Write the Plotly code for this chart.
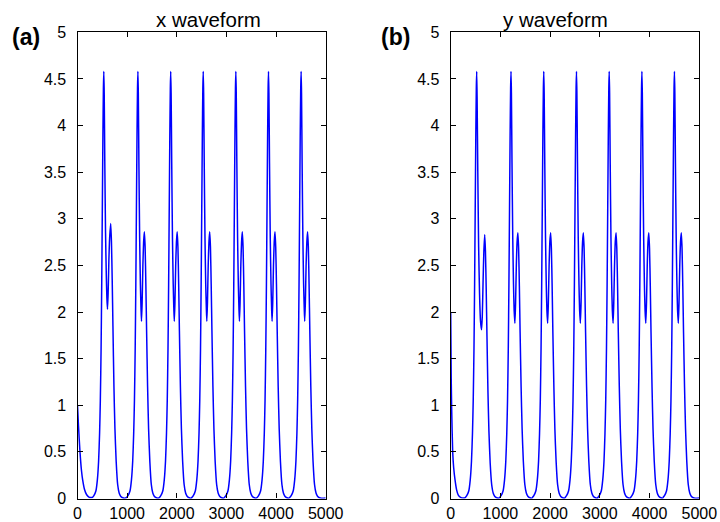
import plotly.graph_objects as go

# ---- data ----
# x waveform (panel a): time samples and values
x_time = [
    0, 20, 50, 80, 104, 140, 185, 230, 275,
    300, 330, 370, 400, 425, 445, 460, 475, 488, 500, 512, 522, 530, 538, 550, 565, 580, 592, 604, 617, 632, 648, 669, 684, 699, 714, 734, 754, 779, 809, 839, 869, 909, 949,
    987, 1017, 1057, 1087, 1112, 1132, 1147, 1162, 1175, 1187, 1199, 1209, 1217, 1225, 1237, 1252, 1267, 1279, 1289, 1302, 1317, 1332, 1347, 1362, 1377, 1392, 1412, 1432, 1457, 1487, 1517, 1547, 1587, 1627,
    1648, 1678, 1718, 1748, 1773, 1793, 1808, 1823, 1836, 1848, 1860, 1870, 1878, 1886, 1898, 1913, 1928, 1940, 1950, 1963, 1978, 1993, 2008, 2023, 2038, 2053, 2073, 2093, 2118, 2148, 2178, 2208, 2248, 2288,
    2303, 2333, 2373, 2403, 2428, 2448, 2463, 2478, 2491, 2503, 2515, 2525, 2533, 2541, 2553, 2568, 2583, 2595, 2605, 2618, 2633, 2648, 2663, 2678, 2693, 2708, 2728, 2748, 2773, 2803, 2833, 2863, 2903, 2943,
    2960, 2990, 3030, 3060, 3085, 3105, 3120, 3135, 3148, 3160, 3172, 3182, 3190, 3198, 3210, 3225, 3240, 3252, 3262, 3275, 3290, 3305, 3320, 3335, 3350, 3365, 3385, 3405, 3430, 3460, 3490, 3520, 3560, 3600,
    3618, 3648, 3688, 3718, 3743, 3763, 3778, 3793, 3806, 3818, 3830, 3840, 3848, 3856, 3868, 3883, 3898, 3910, 3920, 3933, 3948, 3963, 3978, 3993, 4008, 4023, 4043, 4063, 4088, 4118, 4148, 4178, 4218, 4258,
    4275, 4305, 4345, 4375, 4400, 4420, 4435, 4450, 4463, 4475, 4487, 4497, 4505, 4513, 4525, 4540, 4555, 4567, 4577, 4590, 4605, 4620, 4635, 4650, 4665, 4680, 4700, 4720, 4745, 4775, 4805, 4835, 4875, 4915, 5000,
]
x_value = [
    1.0, 0.78, 0.5, 0.3, 0.2, 0.1, 0.04, 0.015, 0.01,
    0.012, 0.03, 0.08, 0.2, 0.4, 0.7, 1.05, 1.6, 2.3, 3.1, 3.9, 4.4, 4.58, 4.35, 3.6, 2.85, 2.4, 2.15, 2.03, 2.2, 2.55, 2.8, 2.95, 2.75, 2.35, 1.85, 1.2, 0.75, 0.4, 0.15, 0.06, 0.025, 0.008, 0.003,
    0.01, 0.03, 0.08, 0.2, 0.4, 0.7, 1.05, 1.6, 2.3, 3.1, 3.9, 4.4, 4.58, 4.35, 3.6, 2.8, 2.3, 2.05, 1.9, 2.1, 2.5, 2.75, 2.86, 2.7, 2.3, 1.8, 1.2, 0.75, 0.4, 0.15, 0.06, 0.025, 0.008, 0.003,
    0.01, 0.03, 0.08, 0.2, 0.4, 0.7, 1.05, 1.6, 2.3, 3.1, 3.9, 4.4, 4.58, 4.35, 3.6, 2.8, 2.3, 2.05, 1.9, 2.1, 2.5, 2.75, 2.86, 2.7, 2.3, 1.8, 1.2, 0.75, 0.4, 0.15, 0.06, 0.025, 0.008, 0.003,
    0.01, 0.03, 0.08, 0.2, 0.4, 0.7, 1.05, 1.6, 2.3, 3.1, 3.9, 4.4, 4.58, 4.35, 3.6, 2.8, 2.3, 2.05, 1.9, 2.1, 2.5, 2.75, 2.86, 2.7, 2.3, 1.8, 1.2, 0.75, 0.4, 0.15, 0.06, 0.025, 0.008, 0.003,
    0.01, 0.03, 0.08, 0.2, 0.4, 0.7, 1.05, 1.6, 2.3, 3.1, 3.9, 4.4, 4.58, 4.35, 3.6, 2.8, 2.3, 2.05, 1.9, 2.1, 2.5, 2.75, 2.86, 2.7, 2.3, 1.8, 1.2, 0.75, 0.4, 0.15, 0.06, 0.025, 0.008, 0.003,
    0.01, 0.03, 0.08, 0.2, 0.4, 0.7, 1.05, 1.6, 2.3, 3.1, 3.9, 4.4, 4.58, 4.35, 3.6, 2.8, 2.3, 2.05, 1.9, 2.1, 2.5, 2.75, 2.86, 2.7, 2.3, 1.8, 1.2, 0.75, 0.4, 0.15, 0.06, 0.025, 0.008, 0.003,
    0.01, 0.03, 0.08, 0.2, 0.4, 0.7, 1.05, 1.6, 2.3, 3.1, 3.9, 4.4, 4.58, 4.35, 3.6, 2.8, 2.3, 2.05, 1.9, 2.1, 2.5, 2.75, 2.86, 2.7, 2.3, 1.8, 1.2, 0.75, 0.4, 0.15, 0.06, 0.025, 0.008, 0.003, 0.005,
]

# y waveform (panel b)
y_time = [
    0, 10, 20, 40, 60, 87, 120, 150, 200, 250,
    293, 323, 363, 393, 418, 438, 453, 468, 481, 493, 505, 515, 523, 531, 545, 562, 580, 600, 620, 635, 650, 667, 684, 699, 714, 729, 749, 769, 794, 824, 854, 884, 924, 964,
    983, 1013, 1053, 1083, 1108, 1128, 1143, 1158, 1171, 1183, 1195, 1205, 1213, 1221, 1233, 1248, 1263, 1276, 1291, 1305, 1320, 1335, 1351, 1366, 1381, 1396, 1416, 1436, 1461, 1491, 1521, 1551, 1591, 1631,
    1642, 1672, 1712, 1742, 1767, 1787, 1802, 1817, 1830, 1842, 1854, 1864, 1872, 1880, 1892, 1907, 1922, 1935, 1950, 1964, 1979, 1994, 2010, 2025, 2040, 2055, 2075, 2095, 2120, 2150, 2180, 2210, 2250, 2290,
    2300, 2330, 2370, 2400, 2425, 2445, 2460, 2475, 2488, 2500, 2512, 2522, 2530, 2538, 2550, 2565, 2580, 2593, 2608, 2622, 2637, 2652, 2668, 2683, 2698, 2713, 2733, 2753, 2778, 2808, 2838, 2868, 2908, 2948,
    2958, 2988, 3028, 3058, 3083, 3103, 3118, 3133, 3146, 3158, 3170, 3180, 3188, 3196, 3208, 3223, 3238, 3251, 3266, 3280, 3295, 3310, 3326, 3341, 3356, 3371, 3391, 3411, 3436, 3466, 3496, 3526, 3566, 3606,
    3616, 3646, 3686, 3716, 3741, 3761, 3776, 3791, 3804, 3816, 3828, 3838, 3846, 3854, 3866, 3881, 3896, 3909, 3924, 3938, 3953, 3968, 3984, 3999, 4014, 4029, 4049, 4069, 4094, 4124, 4154, 4184, 4224, 4264,
    4270, 4300, 4340, 4370, 4395, 4415, 4430, 4445, 4458, 4470, 4482, 4492, 4500, 4508, 4520, 4535, 4550, 4563, 4578, 4592, 4607, 4622, 4638, 4653, 4668, 4683, 4703, 4723, 4748, 4778, 4808, 4838, 4878, 4918, 5000,
]
y_value = [
    2.0, 1.3, 0.95, 0.5, 0.33, 0.2, 0.09, 0.04, 0.012, 0.005,
    0.01, 0.03, 0.08, 0.2, 0.4, 0.7, 1.05, 1.6, 2.3, 3.1, 3.9, 4.4, 4.58, 4.3, 3.5, 2.7, 2.2, 1.9, 1.81, 1.95, 2.3, 2.65, 2.83, 2.65, 2.25, 1.75, 1.15, 0.72, 0.38, 0.15, 0.06, 0.025, 0.008, 0.003,
    0.01, 0.03, 0.08, 0.2, 0.4, 0.7, 1.05, 1.6, 2.3, 3.1, 3.9, 4.4, 4.58, 4.35, 3.6, 2.8, 2.3, 2.02, 1.88, 2.1, 2.5, 2.75, 2.85, 2.68, 2.28, 1.78, 1.2, 0.75, 0.4, 0.15, 0.06, 0.025, 0.008, 0.003,
    0.01, 0.03, 0.08, 0.2, 0.4, 0.7, 1.05, 1.6, 2.3, 3.1, 3.9, 4.4, 4.58, 4.35, 3.6, 2.8, 2.3, 2.02, 1.88, 2.1, 2.5, 2.75, 2.85, 2.68, 2.28, 1.78, 1.2, 0.75, 0.4, 0.15, 0.06, 0.025, 0.008, 0.003,
    0.01, 0.03, 0.08, 0.2, 0.4, 0.7, 1.05, 1.6, 2.3, 3.1, 3.9, 4.4, 4.58, 4.35, 3.6, 2.8, 2.3, 2.02, 1.88, 2.1, 2.5, 2.75, 2.85, 2.68, 2.28, 1.78, 1.2, 0.75, 0.4, 0.15, 0.06, 0.025, 0.008, 0.003,
    0.01, 0.03, 0.08, 0.2, 0.4, 0.7, 1.05, 1.6, 2.3, 3.1, 3.9, 4.4, 4.58, 4.35, 3.6, 2.8, 2.3, 2.02, 1.88, 2.1, 2.5, 2.75, 2.85, 2.68, 2.28, 1.78, 1.2, 0.75, 0.4, 0.15, 0.06, 0.025, 0.008, 0.003,
    0.01, 0.03, 0.08, 0.2, 0.4, 0.7, 1.05, 1.6, 2.3, 3.1, 3.9, 4.4, 4.58, 4.35, 3.6, 2.8, 2.3, 2.02, 1.88, 2.1, 2.5, 2.75, 2.85, 2.68, 2.28, 1.78, 1.2, 0.75, 0.4, 0.15, 0.06, 0.025, 0.008, 0.003,
    0.01, 0.03, 0.08, 0.2, 0.4, 0.7, 1.05, 1.6, 2.3, 3.1, 3.9, 4.4, 4.58, 4.35, 3.6, 2.8, 2.3, 2.02, 1.88, 2.1, 2.5, 2.75, 2.85, 2.68, 2.28, 1.78, 1.2, 0.75, 0.4, 0.15, 0.06, 0.025, 0.008, 0.003, 0.005,
]

x_ticks = [0, 1000, 2000, 3000, 4000, 5000]
y_ticks = [0, 0.5, 1, 1.5, 2, 2.5, 3, 3.5, 4, 4.5, 5]
y_tick_labels = ["0", "0.5", "1", "1.5", "2", "2.5", "3", "3.5", "4", "4.5", "5"]
titles = ["x waveform", "y waveform"]
panel_labels = ["(a)", "(b)"]

FONT = "Liberation Sans, Arial, sans-serif"
W, H = 720, 522

fig = go.Figure()
fig.add_trace(go.Scatter(x=x_time, y=x_value, mode="lines", xaxis="x", yaxis="y",
                         line=dict(color="#0000ff", width=1.5, shape="spline", smoothing=0.6),
                         showlegend=False))
fig.add_trace(go.Scatter(x=y_time, y=y_value, mode="lines", xaxis="x2", yaxis="y2",
                         line=dict(color="#0000ff", width=1.5, shape="spline", smoothing=0.6),
                         showlegend=False))

def xax(domain, anchor):
    return dict(domain=domain, anchor=anchor, range=[0, 5000], tickvals=x_ticks,
                ticktext=[str(v) for v in x_ticks], automargin=False,
                showline=True, linecolor="black", linewidth=1.2, mirror="ticks",
                ticks="inside", ticklen=5, tickcolor="black", showgrid=False, zeroline=False,
                ticklabelstandoff=0,
                tickfont=dict(family=FONT, size=16, color="black"), fixedrange=True)

def yax(domain, anchor):
    return dict(domain=domain, anchor=anchor, range=[0, 5], tickvals=y_ticks, ticktext=y_tick_labels,
                automargin=False,
                showline=True, linecolor="black", linewidth=1.2, mirror="ticks",
                ticks="inside", ticklen=5, tickcolor="black", showgrid=False, zeroline=False,
                ticklabelstandoff=7,
                tickfont=dict(family=FONT, size=16, color="black"), fixedrange=True)

ydom = [1 - 498.5 / H, 1 - 32.3 / H]
fig.update_layout(
    template="none",
    width=W, height=H,
    margin=dict(l=0, r=0, t=0, b=0, autoexpand=False),
    paper_bgcolor="white", plot_bgcolor="white",
    xaxis=xax([77.5 / W, 325.7 / W], "y"),
    yaxis=yax(ydom, "x"),
    xaxis2=xax([450.7 / W, 699.3 / W], "y2"),
    yaxis2=yax(ydom, "x2"),
    annotations=[
        dict(text=titles[0], x=208.5 / W, y=1 - 19.5 / H, xref="paper", yref="paper",
             showarrow=False, xanchor="center", yanchor="middle",
             font=dict(family=FONT, size=20.5, color="black")),
        dict(text=titles[1], x=555.5 / W, y=1 - 19.5 / H, xref="paper", yref="paper",
             showarrow=False, xanchor="center", yanchor="middle",
             font=dict(family=FONT, size=20.5, color="black")),
        dict(text="<b>" + panel_labels[0] + "</b>", x=25.5 / W, y=1 - 37 / H, xref="paper", yref="paper",
             showarrow=False, xanchor="center", yanchor="middle",
             font=dict(family=FONT, size=23, color="black")),
        dict(text="<b>" + panel_labels[1] + "</b>", x=395 / W, y=1 - 37 / H, xref="paper", yref="paper",
             showarrow=False, xanchor="center", yanchor="middle",
             font=dict(family=FONT, size=23, color="black")),
    ],
)

fig.write_html("out.html")
